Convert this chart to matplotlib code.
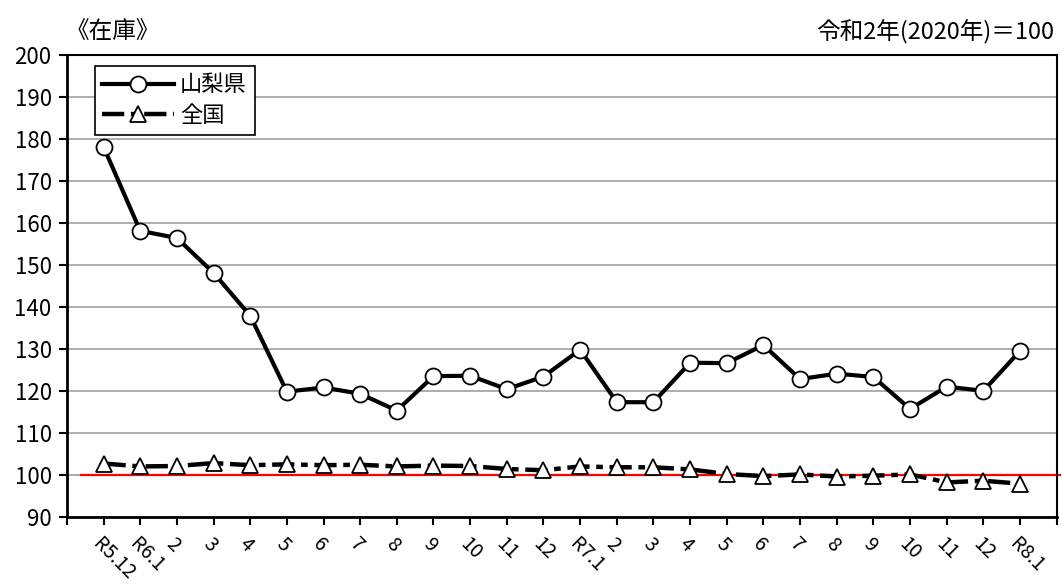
import matplotlib.pyplot as plt
import numpy as np

plt.rcParams['font.family'] = ['Noto Sans CJK JP', 'DejaVu Sans']

# 月ラベル
labels = ["R5.12", "R6.1", "2", "3", "4", "5", "6", "7", "8", "9", "10", "11", "12",
          "R7.1", "2", "3", "4", "5", "6", "7", "8", "9", "10", "11", "12", "R8.1"]

# 在庫指数（令和2年＝100）
yamanashi = [178.1, 158.1, 156.4, 148.1, 137.9, 119.8, 120.8, 119.3, 115.3, 123.5,
             123.6, 120.4, 123.4, 129.8, 117.3, 117.3, 126.7, 126.6, 130.9, 122.8,
             124.1, 123.3, 115.7, 121.0, 120.0, 129.5]
zenkoku = [102.7, 102.0, 102.1, 102.8, 102.3, 102.5, 102.3, 102.4, 102.0, 102.2,
           102.1, 101.4, 101.1, 102.0, 101.8, 101.8, 101.3, 100.2, 99.7, 100.1,
           99.6, 99.8, 100.1, 98.2, 98.6, 97.9]

x = np.arange(len(labels))

fig = plt.figure(figsize=(10.62, 5.84), dpi=100)
ax = fig.add_axes([0.063, 0.115, 0.932, 0.791])

ax.set_ylim(90, 200)
ax.set_xlim(-1, len(labels))
ax.set_yticks(np.arange(90, 201, 10))
ax.yaxis.grid(True, color='#a0a0a0', linewidth=1.2)
ax.set_axisbelow(True)

# 基準線 100
ax.plot([-0.62, len(labels) + 0.1], [100, 100], color='#ff0000', linewidth=1.6,
        clip_on=False, zorder=2)

ax.plot(x, yamanashi, color='black', linewidth=3, marker='o', markersize=11.5,
        markerfacecolor='white', markeredgecolor='black', markeredgewidth=1.3,
        label='山梨県', zorder=4)
ax.plot(x, zenkoku, color='black', linewidth=3.2, dashes=(5, 1.5, 1.5, 1.5),
        marker='^', markersize=11.5, markerfacecolor='white', markeredgecolor='black',
        markeredgewidth=1.3, label='全国', zorder=3)

ax.set_xticks(np.arange(-1, len(labels) + 1))
ax.set_xticklabels([''] + labels + [''], rotation=-45, ha='left', va='top',
                   rotation_mode='anchor')
ax.tick_params(axis='x', length=6, width=1.5, labelsize=14, pad=6)
ax.tick_params(axis='y', length=6, width=1.5, labelsize=16, pad=5)

for s in ['left', 'bottom']:
    ax.spines[s].set_linewidth(2)
for s in ['top', 'right']:
    ax.spines[s].set_linewidth(1.5)

leg = ax.legend(loc='upper left', bbox_to_anchor=(0.028, 0.977), fontsize=16,
                frameon=True, fancybox=False, edgecolor='black', framealpha=1,
                handlelength=3.2, borderpad=0.35, labelspacing=0.35, handletextpad=0.3,
                borderaxespad=0)
leg.get_frame().set_linewidth(1.2)

fig.text(0.062, 0.945, '《在庫》', fontsize=17, ha='left', va='center')
fig.text(0.993, 0.945, '令和2年(2020年)＝100', fontsize=17, ha='right', va='center')

fig.savefig('out.png', dpi=100)
